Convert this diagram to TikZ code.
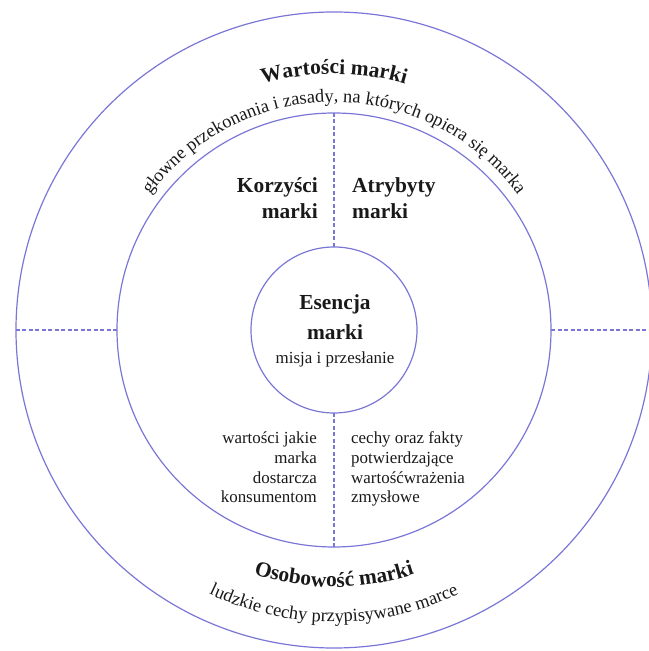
\documentclass[tikz,border=0pt]{standalone}
\usepackage{fontspec}
\setmainfont{Liberation Serif}
\usetikzlibrary{decorations.text}
\definecolor{ringcol}{RGB}{122,118,214}
\definecolor{ink}{RGB}{25,25,25}
\newcommand\bigbf{\fontsize{21.5}{27}\selectfont\bfseries}
\newcommand\smallrm{\fontsize{17}{20}\selectfont}
\newcommand\arcrm{\fontsize{18.5}{22}\selectfont}
\begin{document}
\begin{tikzpicture}[x=1bp,y=1bp,
  ring/.style={circle, draw=ringcol, line width=1.2bp, inner sep=0pt, outer sep=0pt},
  divider/.style={draw=ringcol, line width=1.2bp, dash pattern=on 4bp off 2.5bp},
  lbl/.style={inner sep=0pt, text=ink}]
\useasboundingbox (0,0) rectangle (649,651);
\coordinate (C) at (334,321);
\node[ring, minimum size=636bp] (outer) at (C) {};
\node[ring, minimum size=434bp] (mid) at (C) {};
\node[ring, minimum size=166bp] (inner) at (C) {};
\draw[divider] (mid.north) -- (inner.north);
\draw[divider] (inner.south) -- (mid.south);
\draw[divider] (outer.west) -- (mid.west);
\draw[divider] (mid.east) -- (outer.east);
% outer ring texts
\path[decorate, decoration={text along path, text align=center,
  text={|\color{ink}\bigbf|Wartości marki}}] (C) ++(180:256) arc (180:0:256);
\path[decorate, decoration={text along path, text align=center,
  text={|\color{ink}\arcrm|głowne przekonania i zasady, na których opiera się marka}}] (C) ++(180:228) arc (180:0:228);
\path[decorate, decoration={text along path, text align=center,
  text={|\color{ink}\bigbf|Osobowość marki}}] (C) ++(180:257) arc (180:360:257);
\path[decorate, decoration={text along path, text align=center,
  text={|\color{ink}\arcrm|ludzkie cechy przypisywane marce}}] (C) ++(180:292) arc (180:360:292);
% middle ring texts
\node[lbl, font=\bigbf, align=right, anchor=base east] (benefits) at (318,432) {Korzyści\\marki};
\node[lbl, font=\bigbf, align=left, anchor=base west] (attributes) at (352,432) {Atrybyty\\marki};
\node[lbl, font=\smallrm, align=right, anchor=base east] (benefitsdesc) at (317,148) {wartości jakie\\marka\\dostarcza\\konsumentom};
\node[lbl, font=\smallrm, align=left, anchor=base west] (attributesdesc) at (351,148) {cechy oraz fakty\\potwierdzające\\wartośćwrażenia\\zmysłowe};
% core
\node[lbl, font=\bigbf, align=center, anchor=base] (essence) at (335,311) {Esencja\\[4pt]marki};
\node[lbl, font=\smallrm, anchor=base] (essencedesc) at (335,287) {misja i przesłanie};
\end{tikzpicture}
\end{document}
